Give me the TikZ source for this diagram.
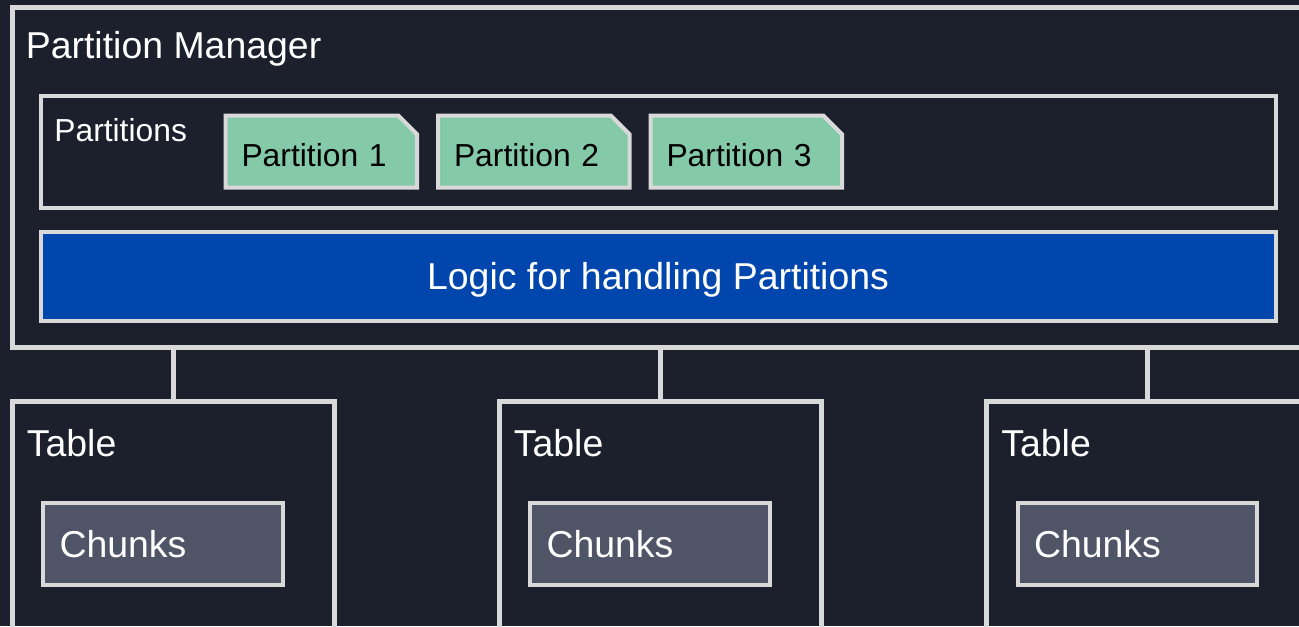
\documentclass[tikz,border=0pt]{standalone}
\usepackage{fontspec}
\setmainfont{Liberation Sans}
\usetikzlibrary{shapes.misc}

\definecolor{bgnavy}{HTML}{1C202C}
\definecolor{edgegray}{HTML}{D9D9D9}
\definecolor{partgreen}{HTML}{84C9A8}
\definecolor{logicblue}{HTML}{0046AD}
\definecolor{chunkgray}{HTML}{4F5566}

\newcommand\bigtxt{\fontsize{21.3}{25}\selectfont}
\newcommand\smalltxt{\fontsize{18.1}{21}\selectfont}

\begin{document}
\begin{tikzpicture}[
  frame/.style={draw=edgegray, line width=3.1pt, rectangle, anchor=north west, inner sep=0pt},
  inbox/.style={draw=edgegray, line width=2.3pt, rectangle, anchor=north west},
  part/.style={inbox, chamfered rectangle, chamfered rectangle corners=north east,
    chamfered rectangle xsep=0.25cm, fill=partgreen, font=\smalltxt,
    text width=3.19cm, inner xsep=0.07cm, inner ysep=0pt, align=left,
    minimum height=1.44cm, text height=0.6cm, text depth=0pt},
  chunk/.style={inbox, fill=chunkgray, text=white, font=\bigtxt,
    text width=4.13cm, inner xsep=0.33cm, inner ysep=0pt, align=left, minimum height=1.65cm},
  tag/.style={anchor=base west, inner sep=0pt, text=white},
  link/.style={draw=edgegray, line width=3pt}
]
\fill[bgnavy] (0,0) rectangle (25.98,-12.52);
\useasboundingbox (0,0) rectangle (25.98,-12.52);

% manager block
\node[frame, minimum width=26.4cm, minimum height=6.81cm] (pm) at (0.19,-0.09) {};
\node[tag, font=\bigtxt] (pmtxt) at ([shift={(0.32,-1.08)}]pm.north west) {Partition Manager};

\node[inbox, inner sep=0pt, minimum width=24.7cm, minimum height=2.23cm] (parts) at (0.77,-1.88) {};
\node[tag, font=\smalltxt] (partstxt) at ([shift={(0.31,-0.95)}]parts.north west) {Partitions};

\node[part] (p1) at (4.47,-2.27) {Partition 1};
\node[part] (p2) at (8.72,-2.27) {Partition 2};
\node[part] (p3) at (12.97,-2.27) {Partition 3};

\node[inbox, fill=logicblue, text=white, font=\bigtxt, inner sep=0pt, text depth=0pt,
  minimum width=24.7cm, minimum height=1.77cm] (logic) at (0.77,-4.60) {Logic for handling Partitions};

% tables
\node[frame, minimum width=6.44cm, minimum height=4.9cm] (t1) at (0.19,-7.98) {};
\node[frame, minimum width=6.44cm, minimum height=4.9cm] (t2) at (9.93,-7.98) {};
\node[frame, minimum width=6.44cm, minimum height=4.9cm] (t3) at (19.68,-7.98) {};

\foreach \t in {t1,t2,t3}{
  \node[tag, font=\bigtxt] (\t txt) at ([shift={(0.34,-1.14)}]\t.north west) {Table};
  \node[chunk] (\t c) at ([shift={(0.63,-2.03)}]\t.north west) {Chunks};
  \draw[link] (\t.north) -- (\t.north |- pm.south);
}
\end{tikzpicture}
\end{document}
